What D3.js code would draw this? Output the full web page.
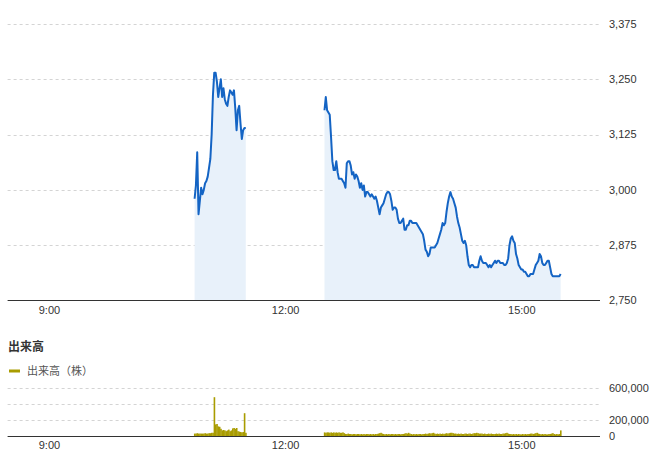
<!DOCTYPE html>
<html>
<head>
<meta charset="utf-8">
<script src="https://cdn.jsdelivr.net/npm/d3@7"></script>
<style>
  body { margin: 0; background: #fff; }
  svg text { font-family: "Liberation Sans", Arial, "Noto Sans CJK JP", sans-serif; }
</style>
</head>
<body>
<div id="chart"></div>
<script>
// data (one value per minute)
var amStart = "10:51";
var amPrices = [2980, 3010, 3085, 2945, 2975, 3005, 2990, 3000, 3015, 3020,
  3030, 3050, 3070, 3125, 3215, 3265, 3265, 3245, 3210, 3230,
  3250, 3210, 3230, 3205, 3195, 3190, 3210, 3225, 3220, 3215,
  3225, 3185, 3135, 3180, 3190, 3150, 3115, 3135, 3140, 3140];
var amVolumes = [30000, 30000, 35000, 30000, 30000, 30000, 30000, 30000, 35000, 30000,
  30000, 35000, 35000, 40000, 40000, 485000, 145000, 150000, 120000, 115000,
  90000, 70000, 75000, 70000, 60000, 70000, 80000, 60000, 70000, 95000,
  100000, 90000, 100000, 60000, 55000, 50000, 45000, 50000, 285000, 40000];

var pmStart = "12:30";
var pmPrices = [3180, 3210, 3180, 3175, 3170, 3120, 3065, 3045, 3045, 3065,
  3040, 3025, 3025, 3025, 3020, 3015, 3005, 3060, 3065, 3065,
  3055, 3035, 3040, 3025, 3035, 3030, 3020, 3005, 3015, 3000,
  3010, 2985, 2995, 2995, 2990, 2985, 2990, 2985, 2980, 2985,
  2975, 2960, 2945, 2960, 2965, 2970, 2980, 2990, 2995, 2995,
  2990, 2975, 2955, 2960, 2960, 2955, 2935, 2925, 2925, 2930,
  2935, 2910, 2910, 2920, 2920, 2930, 2930, 2925, 2925, 2925,
  2925, 2920, 2915, 2910, 2905, 2900, 2885, 2865, 2860, 2850,
  2855, 2870, 2870, 2870, 2870, 2875, 2880, 2890, 2900, 2910,
  2925, 2920, 2925, 2950, 2970, 2985, 2995, 2985, 2980, 2970,
  2960, 2940, 2925, 2915, 2900, 2885, 2880, 2885, 2875, 2850,
  2830, 2825, 2830, 2830, 2825, 2825, 2825, 2825, 2840, 2850,
  2840, 2835, 2835, 2835, 2830, 2825, 2830, 2825, 2830, 2835,
  2840, 2835, 2840, 2840, 2835, 2835, 2835, 2830, 2830, 2835,
  2845, 2875, 2890, 2895, 2885, 2880, 2855, 2845, 2830, 2825,
  2820, 2820, 2815, 2815, 2810, 2805, 2805, 2810, 2810, 2810,
  2820, 2830, 2835, 2840, 2855, 2850, 2835, 2830, 2830, 2835,
  2840, 2840, 2825, 2810, 2805, 2805, 2805, 2805, 2805, 2805,
  2810];
var pmVolumes = [45000, 40000, 45000, 45000, 40000, 45000, 40000, 45000, 40000, 45000,
  40000, 45000, 40000, 40000, 45000, 35000, 25000, 25000, 30000, 25000,
  25000, 20000, 25000, 25000, 20000, 25000, 25000, 20000, 25000, 20000,
  25000, 20000, 25000, 25000, 20000, 25000, 20000, 25000, 20000, 25000,
  25000, 30000, 35000, 40000, 30000, 25000, 20000, 25000, 20000, 25000,
  20000, 25000, 25000, 20000, 25000, 20000, 25000, 25000, 20000, 25000,
  25000, 30000, 35000, 30000, 40000, 30000, 25000, 20000, 25000, 20000,
  25000, 20000, 25000, 25000, 20000, 25000, 25000, 30000, 25000, 30000,
  35000, 30000, 35000, 40000, 30000, 25000, 30000, 25000, 30000, 25000,
  30000, 25000, 30000, 35000, 30000, 35000, 40000, 40000, 35000, 30000,
  30000, 25000, 30000, 25000, 30000, 25000, 25000, 30000, 30000, 25000,
  30000, 30000, 25000, 30000, 35000, 35000, 40000, 35000, 30000, 30000,
  30000, 25000, 30000, 25000, 25000, 30000, 25000, 30000, 25000, 25000,
  25000, 30000, 25000, 30000, 25000, 25000, 30000, 30000, 35000, 40000,
  30000, 25000, 25000, 20000, 25000, 20000, 25000, 20000, 25000, 20000,
  20000, 25000, 20000, 25000, 20000, 25000, 25000, 30000, 30000, 25000,
  30000, 35000, 40000, 30000, 25000, 20000, 25000, 20000, 25000, 20000,
  20000, 25000, 25000, 30000, 35000, 25000, 20000, 25000, 20000, 25000,
  70000];

var priceTicks = [2750, 2875, 3000, 3125, 3250, 3375];
var volGridTicks = [200000, 400000, 600000];
var volLabelTicks = [0, 200000, 600000];
var timeTicks = ["9:00", "12:00", "15:00"];
var volumeTitle = "出来高";
var volumeLegend = "出来高（株）";

var lineColor = '#1464c4';
var fillColor = '#e8f1fa';
var volColor = '#a99c00';
var textColor = '#333333';

var width = 661, height = 461;
var left = 9.6, right = 600;

var svg = d3.select('#chart').append('svg')
  .attr('width', width)
  .attr('height', height);

var parseTime = d3.timeParse('%H:%M');

function toSeries(start, prices, volumes) {
  var t0 = parseTime(start);
  return prices.map(function (p, i) {
    return {t: d3.timeMinute.offset(t0, i), price: p, volume: volumes[i]};
  });
}
var am = toSeries(amStart, amPrices, amVolumes);
var pm = toSeries(pmStart, pmPrices, pmVolumes);

// scales
var x = d3.scaleTime()
  .domain([parseTime('8:30'), parseTime('16:00')])
  .range([left, right]);
var y = d3.scaleLinear().domain([2750, 3375]).range([300.5, 24]);
var yv = d3.scaleLinear().domain([0, 600000]).range([436, 388]);

// price gridlines
svg.append('g').selectAll('line')
  .data(priceTicks.slice(1))
  .enter().append('line')
  .attr('x1', left - 2).attr('x2', right)
  .attr('y1', function (d) {return Math.round(y(d)) + 0.5;})
  .attr('y2', function (d) {return Math.round(y(d)) + 0.5;})
  .attr('stroke', '#d4d4d4')
  .attr('stroke-dasharray', '3,3');

// area + line per session
var area = d3.area()
  .x(function (d) {return x(d.t);})
  .y0(y(2750))
  .y1(function (d) {return y(d.price);});
var line = d3.line()
  .x(function (d) {return x(d.t);})
  .y(function (d) {return y(d.price);});

[am, pm].forEach(function (s) {
  svg.append('path').datum(s)
    .attr('d', area)
    .attr('fill', fillColor);
});
[am, pm].forEach(function (s) {
  svg.append('path').datum(s)
    .attr('d', line)
    .attr('fill', 'none')
    .attr('stroke', lineColor)
    .attr('stroke-width', 2)
    .attr('stroke-linejoin', 'round');
});

// price baseline
svg.append('line')
  .attr('x1', left - 2).attr('x2', right)
  .attr('y1', 300.5).attr('y2', 300.5)
  .attr('stroke', '#333').attr('stroke-width', 1);

// price labels
svg.append('g').selectAll('text')
  .data(priceTicks)
  .enter().append('text')
  .attr('x', 609)
  .attr('y', function (d) {return y(d);})
  .attr('dy', '0.35em')
  .attr('font-size', 11)
  .attr('fill', textColor)
  .text(d3.format(','));

// time axes
function timeAxis(yPos) {
  var g = svg.append('g')
    .attr('transform', 'translate(0,' + yPos + ')')
    .call(d3.axisBottom(x)
      .tickValues(timeTicks.map(parseTime))
      .tickSize(0)
      .tickPadding(0)
      .tickFormat(d3.timeFormat('%-H:%M')));
  g.select('.domain').remove();
  g.selectAll('text')
    .attr('font-size', 11)
    .attr('fill', textColor);
}
timeAxis(306);
timeAxis(441);

// volume title + legend
svg.append('text')
  .attr('x', 8).attr('y', 347)
  .attr('dy', '0.35em')
  .attr('font-size', 12)
  .attr('font-weight', 'bold')
  .attr('fill', textColor)
  .text(volumeTitle);
svg.append('line')
  .attr('x1', 9).attr('x2', 20)
  .attr('y1', 371).attr('y2', 371)
  .attr('stroke', volColor).attr('stroke-width', 3);
svg.append('text')
  .attr('x', 27).attr('y', 371)
  .attr('dy', '0.35em')
  .attr('font-size', 11)
  .attr('fill', '#555')
  .text(volumeLegend);

// volume gridlines
svg.append('g').selectAll('line')
  .data(volGridTicks)
  .enter().append('line')
  .attr('x1', left - 2).attr('x2', right)
  .attr('y1', function (d) {return Math.round(yv(d)) + 0.5;})
  .attr('y2', function (d) {return Math.round(yv(d)) + 0.5;})
  .attr('stroke', '#d4d4d4')
  .attr('stroke-dasharray', '3,3');

// volume bars
var bw = x(parseTime('9:01')) - x(parseTime('9:00'));
svg.append('g').selectAll('rect')
  .data(am.concat(pm))
  .enter().append('rect')
  .attr('x', function (d) {return x(d.t) - bw / 2;})
  .attr('width', bw + 0.3)
  .attr('y', function (d) {return yv(d.volume);})
  .attr('height', function (d) {return yv(0) - yv(d.volume);})
  .attr('fill', volColor);

svg.append('line')
  .attr('x1', left - 2).attr('x2', right)
  .attr('y1', 436.5).attr('y2', 436.5)
  .attr('stroke', '#333').attr('stroke-width', 1);

svg.append('g').selectAll('text')
  .data(volLabelTicks)
  .enter().append('text')
  .attr('x', 609)
  .attr('y', function (d) {return yv(d);})
  .attr('dy', '0.35em')
  .attr('font-size', 11)
  .attr('fill', textColor)
  .text(d3.format(','));
</script>
</body>
</html>
